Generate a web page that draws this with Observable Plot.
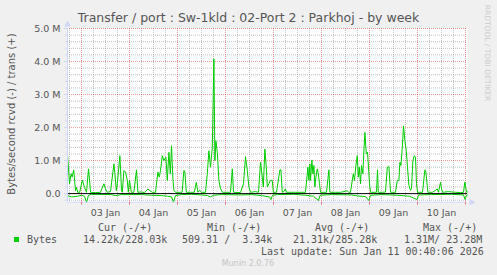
<!DOCTYPE html>
<html><head><meta charset="utf-8">
<script src="https://cdn.jsdelivr.net/npm/d3@7"></script>
<script src="https://cdn.jsdelivr.net/npm/@observablehq/plot@0.6"></script>
<style>
html,body{margin:0;padding:0;background:#f0f0f0;}
#chart{position:relative;width:497px;height:275px;background:#f0f0f0;overflow:hidden;font-family:"DejaVu Sans",sans-serif;color:#555;}
#chart svg{position:absolute;left:0;top:0;}
.t{position:absolute;white-space:pre;line-height:1;}
.mono{font-family:"DejaVu Sans Mono",monospace;font-size:10px;color:#555;}
</style></head><body><div id="chart"></div>
<script>
// ---- data (hours relative to 03 Jan 00:00, values in millions of bytes/s) ----
const transHours = [
 -7,-6,-5.2,-4.7,-3.9,-3,-2.5,-1.9,-0.9,0.4,
 1.5,2.5,3.5,3.9,4.5,7,9.5,11.2,12,12.9,
 14.5,16.2,16.7,17.4,17.9,19.2,20,20.4,21.2,22,
 22.9,23.4,24,24.9,26.2,27.5,28.2,30,31.5,33.2,
 34.2,35.4,37,38.2,38.9,39.5,40.4,41.2,42.2,42.9,
 43.7,44.4,45,45.7,46.2,47,49.5,50.3,51.2,51.7,
 52.4,54.5,56.4,57.4,58.2,59,60,62,62.9,63.7,
 64.5,65.4,66.2,66.7,67.2,67.9,68.7,69.5,70.5,74.5,
 75.4,76,79.5,81,82,82.9,83.7,84.5,87,88.5,
 89.5,90.4,90.9,91.7,92.4,92.9,93.7,94.5,95.4,95.9,
 97.5,99.2,99.7,100.4,101.2,102,102.5,107,112,113.2,
 113.7,114.2,114.5,115.2,115.7,116.2,116.7,117.2,117.9,118.4,
 119,119.5,122.5,123.7,124.2,127,129.5,132,132.9,133.5,
 134.5,135.9,136.5,137.2,137.9,138.4,138.9,139.5,140,140.7,
 141.2,141.7,142.4,143,143.5,144,144.5,147.5,148,148.4,
 150.5,152,152.9,153.7,154.5,157,157.9,158.7,159.2,159.7,
 160.4,161,161.7,162.4,163,163.7,164.5,165,165.7,166.4,
 167,167.5,168,170.5,171.7,172.2,173.2,175.5,177.9,178.5,
 179.5,180,180.5,183.5,187,189.5,191,191.7,192,192.5,193
];
const transValues = [
 1.2,0.3,0.6,0.5,0.72,0.09,0.19,0.04,0.04,0.41,
 0.19,0.04,0.75,0.5,0.04,0.03,0.04,0.3,0.14,0.04,
 0.06,0.9,0.6,0.09,0.3,1.15,0.09,0.04,0.7,0.65,
 0.4,0.04,0.4,0.04,0.04,0.72,0.04,0.05,0.03,0.14,
 0.09,0.04,0.04,0.65,0.5,0.7,1.15,1.0,1.1,0.4,
 1.25,0.6,1.45,0.45,0.1,0.04,0.04,0.04,0.7,0.65,
 0.04,0.04,0.04,0.34,0.04,0.1,0.04,0.04,0.6,1.3,
 0.8,1.4,4.08,1.0,1.6,1.25,0.4,0.15,0.04,0.04,
 0.75,0.04,0.03,0.3,1.12,0.7,0.2,0.04,0.06,0.04,
 0.95,0.5,0.2,1.35,0.8,0.2,0.3,0.4,0.4,0.04,
 0.04,0.72,0.72,0.04,0.06,0.14,0.04,0.04,0.04,0.8,
 0.4,0.9,0.4,1.02,0.6,0.85,0.2,0.5,0.75,0.6,
 0.3,0.04,0.04,0.72,0.04,0.04,0.04,0.07,0.09,0.04,
 0.04,0.6,0.4,0.85,1.15,0.5,0.8,0.3,0.85,0.6,
 1.3,1.85,1.2,1.25,0.8,0.3,0.04,0.04,0.72,0.04,
 0.04,0.05,0.8,0.82,0.04,0.04,0.4,0.4,0.95,0.85,
 1.4,2.05,1.6,1.3,0.8,0.25,0.1,0.15,1.0,1.15,
 1.1,0.3,0.04,0.04,0.72,0.65,0.04,0.04,0.14,0.04,
 0.34,0.15,0.04,0.06,0.04,0.03,0.04,0.35,0.25,0.04,0.05
];
const rcvdHours = [
 -7,-5,-2,0,1.5,2.5,3.5,5,15,17,
 20,30,35,40,43,45,46,47,50,55,
 60,63,64.5,66,70,80,85,90,94,94.7,
 95.5,98,106,112,116,118.5,119.3,125,135,138,
 142,143.7,144.5,150,158,162,164,167.8,168.5,175,
 185,191,191.8,192.5,193
];
const rcvdValues = [
 0.06,0.1,0.08,0.05,0.08,0.26,0.05,0.02,0.03,0.06,
 0.03,0.03,0.05,0.06,0.08,0.1,0.26,0.06,0.03,0.02,
 0.04,0.06,0.1,0.05,0.03,0.04,0.03,0.06,0.1,0.18,
 0.05,0.03,0.02,0.05,0.08,0.21,0.05,0.03,0.04,0.07,
 0.09,0.21,0.05,0.03,0.05,0.07,0.08,0.18,0.04,0.03,
 0.02,0.04,0.18,0.05,0.04
];
const dayLabels = ["03 Jan","04 Jan","05 Jan","06 Jan","07 Jan","08 Jan","09 Jan","10 Jan"];
const yTickValues = [0,1,2,3,4,5];
const yTickLabels = ["0.0","1.0 M","2.0 M","3.0 M","4.0 M","5.0 M"];
const legendHeaders = ["Cur (-/+)","Min (-/+)","Avg (-/+)","Max (-/+)"];
const legendValues = ["14.22k/228.03k","509.31 /  3.34k","21.31k/285.28k","1.31M/ 23.28M"];
const seriesName = "Bytes";
const titleText = "Transfer / port : Sw-1kld : 02-Port 2 : Parkhoj - by week";
const yLabelText = "Bytes/second rcvd (-) / trans (+)";
const lastUpdate = "Last update: Sun Jan 11 00:40:06 2026";
const footer = "Munin 2.0.76";
const sideText = "RRDTOOL / TOBI OETIKER";

// ---- build ----
const trans = transHours.map((h,i)=>({h, v: transValues[i]}));
const rcvd = rcvdHours.map((h,i)=>({h, v: -rcvdValues[i]}));
const xDomain = [-7,193];
const yDomain = [-0.26,5.0];
const dayStarts = d3.range(0, dayLabels.length+1).map(d=>d*24);
const noons = dayLabels.map((_,i)=>i*24+12);
const minorX = d3.range(-6,193,6).filter(h=>h%24!==0);
const minorY = d3.range(-1,26).map(i=>+(i*0.2).toFixed(2)).filter(v=>Math.abs(v-Math.round(v))>1e-6);
const dayMap = new Map(noons.map((n,i)=>[n, dayLabels[i]]));
const yMap = new Map(yTickValues.map((v,i)=>[v, yTickLabels[i]]));

const plot = Plot.plot({
  width:497, height:275,
  marginLeft:67, marginRight:30, marginTop:28, marginBottom:73.3,
  x:{domain:xDomain},
  y:{domain:yDomain},
  style:{background:"transparent", fontFamily:"DejaVu Sans", fontSize:"9.5px", color:"#555", overflow:"visible"},
  marks:[
    Plot.frame({fill:"white", stroke:null}),
    Plot.ruleX(minorX, {stroke:"#8f8f8f", strokeOpacity:0.55, strokeDasharray:"1,1"}),
    Plot.ruleY(minorY, {stroke:"#8f8f8f", strokeOpacity:0.55, strokeDasharray:"1,1"}),
    Plot.ruleX(dayStarts, {stroke:"#de3030", strokeOpacity:0.5, strokeDasharray:"1,1"}),
    Plot.ruleY(yTickValues.filter(v=>v>0), {stroke:"#de3030", strokeOpacity:0.5, strokeDasharray:"1,1"}),
    Plot.line(trans, {x:"h", y:"v", stroke:"#00cc00", strokeWidth:1}),
    Plot.line(rcvd, {x:"h", y:"v", stroke:"#00cc00", strokeWidth:1}),
    Plot.ruleY([0], {stroke:"#000", strokeWidth:1}),
    Plot.ruleX([xDomain[0]], {stroke:"#cfd6f8"}),
    Plot.ruleY([yDomain[0]], {stroke:"#cfd6f8"}),
    Plot.dot([0], {frameAnchor:"top-left", symbol:"triangle", r:2.5, fill:"#cfd6f8", stroke:null, dy:-4}),
    Plot.dot([0], {frameAnchor:"bottom-right", symbol:"triangle", r:2.5, fill:"#cfd6f8", stroke:null, rotate:90, dx:4}),
    Plot.axisY({ticks:minorY, tickSize:2, tickFormat:()=>"", stroke:"#cfd6f8", label:null}),
    Plot.axisY({ticks:yTickValues, tickSize:3, tickPadding:4, tickFormat:d=>yMap.get(d), stroke:"#cfd6f8", fill:"#555", label:null}),
    Plot.axisX({ticks:dayStarts, tickSize:3, tickFormat:()=>"", stroke:"#de3030", strokeOpacity:0.6, label:null}),
    Plot.axisX({ticks:noons, tickSize:0, tickPadding:7, tickFormat:d=>dayMap.get(d), fill:"#555", label:null})
  ]
});

const chart = document.getElementById("chart");
chart.appendChild(plot);

function addText(txt, css, cls){
  const d = document.createElement("div");
  d.className = "t" + (cls ? " " + cls : "");
  d.textContent = txt;
  Object.assign(d.style, css);
  chart.appendChild(d);
  return d;
}
// title
addText(titleText, {left:"248.5px", top:"12px", fontSize:"12.5px", transform:"translateX(-50%)", color:"#555"});
// y label
addText(yLabelText, {left:"11.5px", top:"114px", fontSize:"10px", transform:"translate(-50%,-50%) rotate(-90deg)", color:"#555"});
// side text
addText(sideText, {left:"487px", top:"52.5px", fontSize:"7.5px", transform:"translate(-50%,-50%) rotate(90deg)", color:"#cccccc"});
// legend
const headerLeft = [98,207,315,423];
const valueLeft = [83,182,293,404];
legendHeaders.forEach((h,i)=>addText(h,{left:headerLeft[i]+"px", top:"222.5px"},"mono"));
legendValues.forEach((v,i)=>addText(v,{left:valueLeft[i]+"px", top:"234.5px"},"mono"));
addText(seriesName,{left:"27px", top:"234.5px"},"mono");
const sw = document.createElement("div");
Object.assign(sw.style,{position:"absolute",left:"14px",top:"237px",width:"5px",height:"5px",background:"#00cc00"});
chart.appendChild(sw);
addText(lastUpdate,{left:"261px", top:"246.5px"},"mono");
addText(footer,{left:"248px", top:"260.2px", fontSize:"8px", transform:"translateX(-50%)", color:"#c4c4c4"});
</script>
</body></html>
